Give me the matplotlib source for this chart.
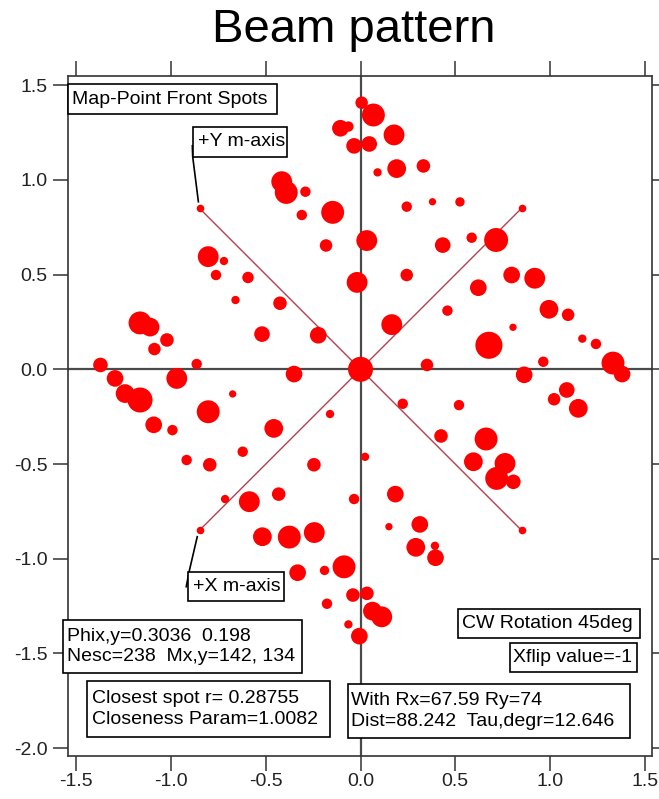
import matplotlib
matplotlib.use("Agg")
import matplotlib.pyplot as plt
from matplotlib.patches import Rectangle
import numpy as np

plt.rcParams['font.family'] = ['Liberation Sans', 'DejaVu Sans']
plt.rcParams['axes.unicode_minus'] = False

# ---- data: spot positions (map units) and spot intensity (drawn size) ----
spot_x = [-0.804, -0.721, -0.763, -0.594, -0.660, -0.520, -1.164, -1.111, -1.022, -1.088,
          -1.373, -0.865, -0.416, -0.392, -0.291, -0.310, -0.147, -0.182, -0.425, -0.223,
          -0.106, -0.064, -0.034, 0.006, 0.068, 0.177, 0.046, 0.090, 0.191, 0.332,
          0.244, 0.380, 0.525, 0.033, 0.434, 0.587, 0.716, -0.018, 0.244, 0.798,
          0.920, 0.622, 0.459, 0.165, 0.995, 1.096, 0.805, 0.678, 1.171, 1.243,
          0.351, 0.965, 1.333, 1.381, 0.000, -0.351, -1.296, -1.243, -1.164, -0.970,
          -0.804, -0.675, -1.092, -0.993, -0.458, -0.622, -0.918, -0.796, -0.246, -0.715,
          -0.587, -0.432, -0.518, -0.376, -0.244, -0.332, -0.190, -0.177, -0.161, -0.087,
          -0.034, -0.040, -0.064, -0.006, 0.864, 0.223, 0.520, 0.425, 0.024, 0.184,
          0.150, 0.313, 0.292, 0.393, 0.396, 0.034, 0.063, 0.112, 1.089, 1.022,
          1.150, 0.663, 0.596, 0.763, 0.719, 0.807]
spot_y = [0.595, 0.572, 0.498, 0.485, 0.366, 0.186, 0.245, 0.223, 0.155, 0.107,
          0.023, 0.028, 0.991, 0.934, 0.938, 0.815, 0.829, 0.654, 0.349, 0.180,
          1.273, 1.282, 1.180, 1.408, 1.343, 1.238, 1.190, 1.040, 1.060, 1.074,
          0.859, 0.885, 0.884, 0.680, 0.656, 0.695, 0.683, 0.459, 0.498, 0.498,
          0.481, 0.431, 0.310, 0.236, 0.317, 0.288, 0.222, 0.127, 0.162, 0.134,
          0.023, 0.040, 0.033, -0.025, 0.000, -0.025, -0.048, -0.128, -0.162, -0.048,
          -0.224, -0.130, -0.293, -0.321, -0.312, -0.435, -0.479, -0.504, -0.504, -0.685,
          -0.699, -0.659, -0.884, -0.886, -0.862, -1.074, -1.062, -1.238, -0.236, -1.043,
          -0.685, -1.192, -1.347, -1.409, -0.029, -0.182, -0.189, -0.352, -0.462, -0.659,
          -0.831, -0.819, -0.940, -0.932, -0.995, -1.183, -1.277, -1.307, -0.109, -0.158,
          -0.206, -0.368, -0.488, -0.497, -0.576, -0.594]
spot_intensity = [20, 8, 10, 11, 8, 15, 22, 18, 13, 12,
                  14, 10, 20, 22, 10, 10, 22, 12, 13, 16,
                  16, 10, 15, 12, 22, 20, 15, 8, 18, 13,
                  10, 7, 9, 20, 15, 10, 23, 20, 12, 16,
                  20, 16, 10, 20, 18, 12, 7, 26, 8, 10,
                  12, 10, 22, 16, 24, 16, 16, 18, 24, 20,
                  22, 7, 16, 10, 18, 10, 10, 13, 13, 8,
                  20, 13, 18, 22, 20, 16, 9, 10, 8, 22,
                  10, 13, 8, 16, 16, 10, 10, 13, 8, 16,
                  7, 16, 18, 8, 16, 13, 18, 20, 15, 12,
                  18, 22, 18, 20, 22, 14]

axis_end_x = [-0.85, 0.85, 0.85, -0.85]
axis_end_y = [0.85, 0.85, -0.85, -0.85]

x_ticks = [-1.5, -1.0, -0.5, 0.0, 0.5, 1.0, 1.5]
y_ticks = [-2.0, -1.5, -1.0, -0.5, 0.0, 0.5, 1.0, 1.5]

W, H = 659, 799
fig = plt.figure(figsize=(W / 100, H / 100), dpi=100)
ax = fig.add_axes([67.5 / W, (H - 756) / H, (652 - 67.5) / W, (756 - 76) / H])
ax.set_xlim(-1.547, 1.539)
ax.set_ylim(-2.042, 1.549)

# zero lines
ax.axhline(0, color='#4a4a4a', lw=1.6, zorder=1)
ax.axvline(0, color='#4a4a4a', lw=1.6, zorder=1)

# rotated m-axes
for ex, ey in zip(axis_end_x, axis_end_y):
    ax.plot([0, ex], [0, ey], color='#b5404f', lw=1.0, zorder=2)
ax.scatter(axis_end_x, axis_end_y, s=30, marker='o', color='red', linewidths=0, zorder=3)

# spots
sizes = (np.array(spot_intensity) * 0.75) ** 2
ax.scatter(spot_x, spot_y, s=sizes, color='red', linewidths=0, zorder=4)

# leader lines for labels
ax.plot([-0.856, -0.886, -0.888], [0.885, 1.123, 1.180], color='black', lw=1.2, zorder=3)
ax.plot([-0.862, -0.905, -0.920], [-0.884, -1.069, -1.148], color='black', lw=1.2, zorder=3)

ax.set_xticks(x_ticks)
ax.set_yticks(y_ticks)
ax.set_xticklabels([f"{v:.1f}" for v in x_ticks])
ax.set_yticklabels([f"{v:.1f}" for v in y_ticks])
ax.tick_params(direction='out', length=10.5, width=1.1, color='#333333',
               top=True, right=True, labeltop=False, labelright=False,
               labelsize=14, labelcolor='#222222')
ax.tick_params(axis='x', pad=1.5)
ax.tick_params(axis='y', pad=4)
for sp in ax.spines.values():
    sp.set_color('#333333')
    sp.set_linewidth(1.2)

# title
fig.text(353.5 / W, 1 - 30 / H, "Beam pattern", ha='center', va='center', fontsize=34)


def box(x0, y0, x1, y1, text, tx):
    rect = Rectangle((x0 / W, 1 - y1 / H), (x1 - x0) / W, (y1 - y0) / H,
                     transform=fig.transFigure, facecolor='white', edgecolor='black',
                     lw=1.2, zorder=10)
    fig.add_artist(rect)
    fig.text(tx / W, 1 - (y0 + y1) / 2 / H, text, ha='left', va='center',
             fontsize=14, zorder=11, linespacing=1.3)


box(68, 84, 277, 114, "Map-Point Front Spots", 72)
box(193, 127, 287, 157, "+Y m-axis", 198)
box(188, 572, 284, 601, "+X m-axis", 193)
box(63, 620, 302, 673, "Phix,y=0.3036  0.198\nNesc=238  Mx,y=142, 134", 67)
box(87, 681, 330, 737, "Closest spot r= 0.28755\nCloseness Param=1.0082", 91.5)
box(348, 684, 630, 738, "With Rx=67.59 Ry=74\nDist=88.242  Tau,degr=12.646", 351)
box(457.5, 609, 640, 638, "CW Rotation 45deg", 461.5)
box(510, 643, 637, 672, "Xflip value=-1", 513)

fig.savefig("out.png", dpi=100)
